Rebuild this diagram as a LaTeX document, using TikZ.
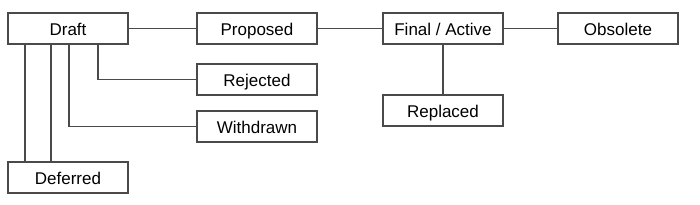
\documentclass[tikz,border=0pt]{standalone}
\usepackage{fontspec}
\setmainfont{Liberation Sans}
\usepackage{tikz}
\usetikzlibrary{positioning, calc}
\definecolor{sline}{HTML}{4A4A4A}
\tikzset{
  state/.style={rectangle, draw=sline, line width=1.6pt, fill=white, text=black,
                minimum height=31pt, minimum width=120pt, inner sep=0pt, outer sep=0pt,
                text height=15pt, text depth=2pt,
                font=\fontsize{17}{20}\selectfont},
  link/.style={draw=sline, line width=1.4pt}
}
\begin{document}
\begin{tikzpicture}[x=1pt, y=1pt]
  \useasboundingbox (0,0) rectangle (700,-204);
  \node[state] (draft) at (68,-28.5) {Draft};
  \node[state, right=69pt of draft] (proposed) {Proposed};
  \node[state, right=66pt of proposed] (final) {Final / Active};
  \node[state, right=55pt of final] (obsolete) {Obsolete};
  \node[state, below=20pt of proposed] (rejected) {Rejected};
  \node[state, below=16pt of rejected] (withdrawn) {Withdrawn};
  \node[state, below=51pt of final] (replaced) {Replaced};
  \node[state, below=118pt of draft] (deferred) {Deferred};

  \draw[link] (draft) -- (proposed);
  \draw[link] (proposed) -- (final);
  \draw[link] (final) -- (obsolete);
  \draw[link] (final) -- (replaced);
  \draw[link] ([xshift=30pt]draft.south) |- (rejected);
  \draw[link] ([xshift=1pt]draft.south) |- (withdrawn);
  \draw[link] ([xshift=-17pt]draft.south) -- ([xshift=-17pt]deferred.north);
  \draw[link] ([xshift=-43pt]draft.south) -- ([xshift=-43pt]deferred.north);
\end{tikzpicture}
\end{document}
